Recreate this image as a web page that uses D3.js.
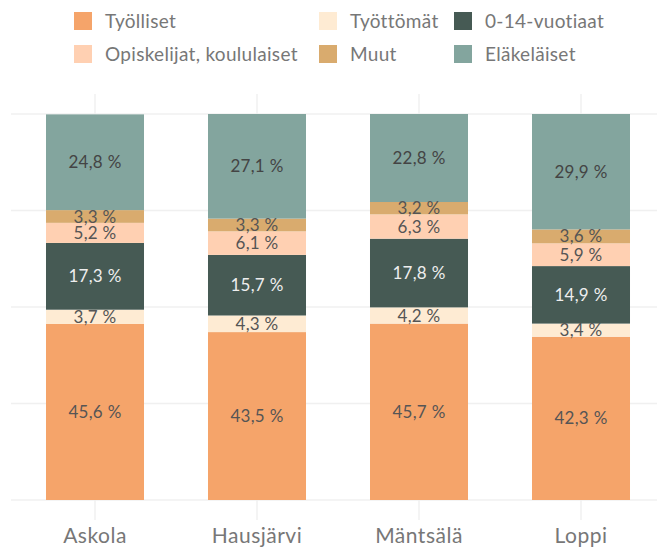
<!DOCTYPE html>
<html>
<head>
<meta charset="utf-8">
<script src="https://cdn.jsdelivr.net/npm/d3@7"></script>
<style>
  body { margin: 0; background: #fff; }
  svg { display: block; font-family: Lato, "Open Sans", sans-serif; }
</style>
</head>
<body>
<div id="chart"></div>
<script>
// Data
const municipalities = ["Askola", "Hausjärvi", "Mäntsälä", "Loppi"];
const groups = ["Työlliset", "Työttömät", "0-14-vuotiaat", "Opiskelijat, koululaiset", "Muut", "Eläkeläiset"];
const tyolliset   = [45.6, 43.5, 45.7, 42.3];
const tyottomat   = [3.7, 4.3, 4.2, 3.4];
const lapset      = [17.3, 15.7, 17.8, 14.9];
const opiskelijat = [5.2, 6.1, 6.3, 5.9];
const muut        = [3.3, 3.3, 3.2, 3.6];
const elakelaiset = [24.8, 27.1, 22.8, 29.9];
const yTicks = [0, 25, 50, 75, 100];

const colors = ["#F5A46A", "#FEEBD3", "#465A54", "#FFD0B2", "#D9AB6E", "#83A59E"];
const labelColors = ["#555", "#555", "#eee", "#555", "#555", "#444"];

// Build table for d3.stack
const series = [tyolliset, tyottomat, lapset, opiskelijat, muut, elakelaiset];
const table = municipalities.map((m, i) => {
  const row = {name: m};
  groups.forEach((g, j) => row[g] = series[j][i]);
  return row;
});

const width = 657, height = 549;

const svg = d3.select("#chart")
  .append("svg")
  .attr("width", width)
  .attr("height", height);

const x = d3.scaleBand()
  .domain(municipalities)
  .range([14, 662])
  .paddingInner(0.395)
  .paddingOuter(0.1975);

const y = d3.scaleLinear()
  .domain([0, 100])
  .range([500, 114]);

// Gridlines
svg.append("g")
  .selectAll("line")
  .data(yTicks)
  .enter()
  .append("line")
  .attr("x1", 11)
  .attr("x2", width)
  .attr("y1", d => y(d))
  .attr("y2", d => y(d))
  .attr("stroke", "#f0f0f0")
  .attr("stroke-width", 1.5);

svg.append("g")
  .selectAll("line")
  .data(municipalities)
  .enter()
  .append("line")
  .attr("x1", d => x(d) + x.bandwidth() / 2)
  .attr("x2", d => x(d) + x.bandwidth() / 2)
  .attr("y1", 94)
  .attr("y2", 520)
  .attr("stroke", "#f0f0f0")
  .attr("stroke-width", 1.5);

// Stacked bars
const stacked = d3.stack().keys(groups)(table);

const layer = svg.append("g")
  .selectAll("g")
  .data(stacked)
  .enter()
  .append("g")
  .attr("fill", (d, i) => colors[i]);

layer.selectAll("rect")
  .data(d => d)
  .enter()
  .append("rect")
  .attr("x", d => x(d.data.name))
  .attr("width", x.bandwidth())
  .attr("y", d => y(d[1]))
  .attr("height", d => y(d[0]) - y(d[1]));

// Value labels
stacked.forEach((s, i) => {
  svg.append("g")
    .selectAll("text")
    .data(s)
    .enter()
    .append("text")
    .attr("x", d => x(d.data.name) + x.bandwidth() / 2)
    .attr("y", d => y((d[0] + d[1]) / 2))
    .attr("dy", "0.36em")
    .attr("text-anchor", "middle")
    .attr("fill", labelColors[i])
    .style("font-size", "17px")
    .style("letter-spacing", "0.3px")
    .text(d => (d[1] - d[0]).toFixed(1).replace(".", ",") + " %");
});

// X axis labels
svg.append("g")
  .selectAll("text")
  .data(municipalities)
  .enter()
  .append("text")
  .attr("x", d => x(d) + x.bandwidth() / 2)
  .attr("y", 543)
  .attr("text-anchor", "middle")
  .attr("fill", "#777")
  .style("font-size", "21px")
  .style("letter-spacing", "0.5px")
  .text(d => d);

// Legend: 3 columns, 2 rows (row-major)
const legendX = [74, 319, 454];
const legendY = [21, 54];
const legend = svg.append("g")
  .selectAll("g")
  .data(groups)
  .enter()
  .append("g")
  .attr("transform", (d, i) => `translate(${legendX[i % 3]},${legendY[Math.floor(i / 3)]})`);

legend.append("rect")
  .attr("x", 0)
  .attr("y", -9)
  .attr("width", 18)
  .attr("height", 18)
  .attr("fill", (d, i) => colors[i]);

legend.append("text")
  .attr("x", 31)
  .attr("dy", "0.35em")
  .attr("fill", "#777")
  .style("font-size", "19px")
  .style("letter-spacing", "0.3px")
  .text(d => d);
</script>
</body>
</html>
